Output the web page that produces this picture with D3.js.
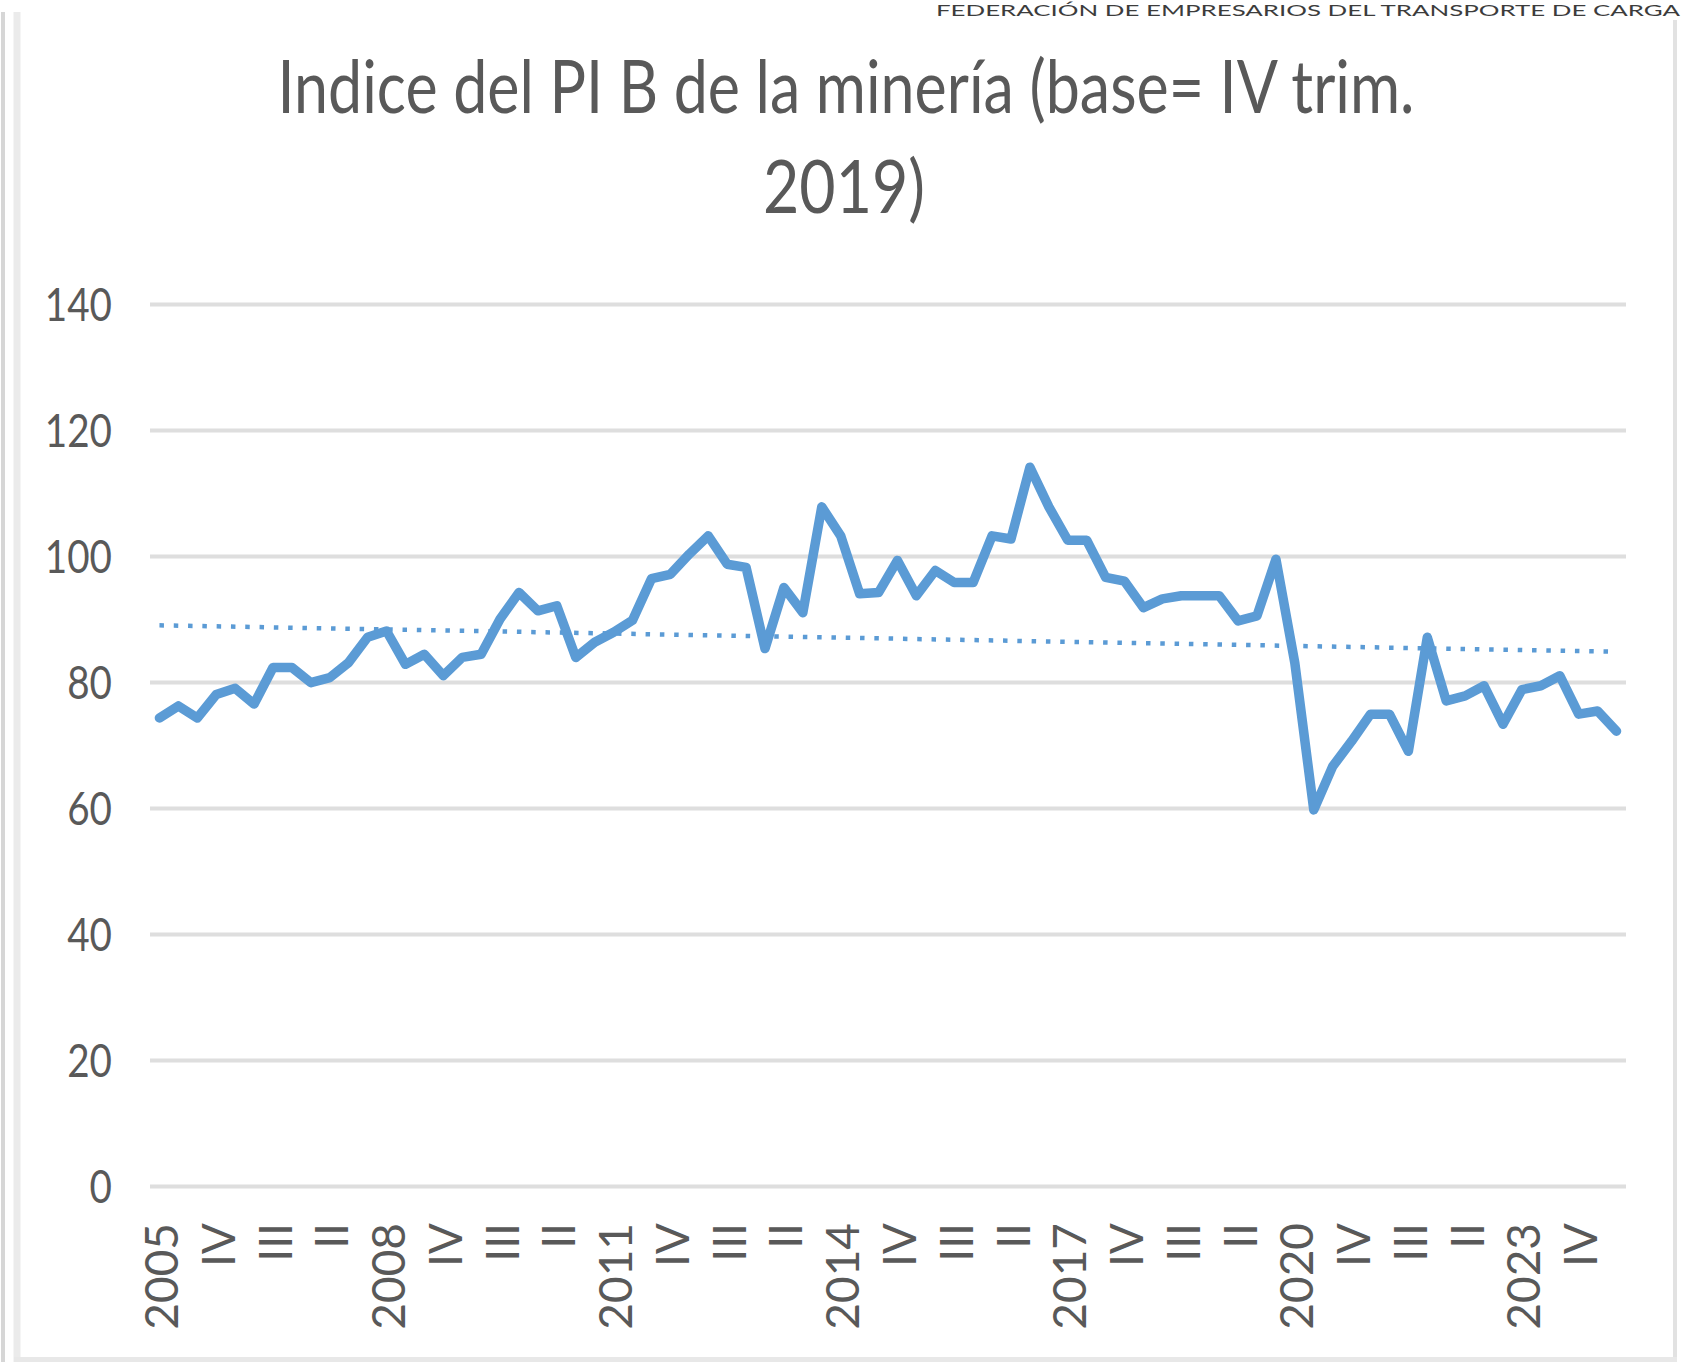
<!DOCTYPE html>
<html>
<head>
<meta charset="utf-8">
<script src="https://cdn.jsdelivr.net/npm/d3@7"></script>
<style>
  html, body { margin: 0; padding: 0; background: #ffffff; }
  svg { display: block; }
  text { font-family: Lato, "Open Sans", "DejaVu Sans", sans-serif; }
</style>
</head>
<body>
<script>
// ---------------- DATA ----------------
const categories = [
  "2005","II","III","IV", "2006","II","III","IV", "2007","II","III","IV",
  "2008","II","III","IV", "2009","II","III","IV", "2010","II","III","IV",
  "2011","II","III","IV", "2012","II","III","IV", "2013","II","III","IV",
  "2014","II","III","IV", "2015","II","III","IV", "2016","II","III","IV",
  "2017","II","III","IV", "2018","II","III","IV", "2019","II","III","IV",
  "2020","II","III","IV", "2021","II","III","IV", "2022","II","III","IV",
  "2023","II","III","IV", "2024","II"
];
const values = [
  74.3, 76.2, 74.3, 78.0,
  79.0, 76.5, 82.3, 82.3,
  79.9, 80.7, 83.1, 87.1,
  88.1, 82.8, 84.4, 81.0,
  83.9, 84.4, 90.0, 94.2,
  91.3, 92.1, 83.9, 86.3,
  87.9, 89.8, 96.4, 97.1,
  100.3, 103.2, 98.7, 98.2,
  85.3, 95.0, 91.0, 107.8,
  103.2, 94.0, 94.2, 99.3,
  93.7, 97.7, 95.8, 95.8,
  103.2, 102.7, 114.1, 107.8,
  102.5, 102.5, 96.6, 96.0,
  91.8, 93.2, 93.7, 93.7,
  93.7, 89.7, 90.5, 99.5,
  83.0, 59.7, 66.6, 70.6,
  74.9, 74.9, 69.0, 87.1,
  77.0, 77.8, 79.4, 73.3,
  78.8, 79.4, 81.0, 74.9,
  75.4, 72.2
];
// linear trendline (dotted): value at first and at last category
const trendValues = [89.0, 84.8];
const yTicks = [0, 20, 40, 60, 80, 100, 120, 140];
const titleLines = ["Indice del PI B de la minería (base= IV trim.", "2019)"];
const headerText = "FEDERACIÓN DE EMPRESARIOS DEL TRANSPORTE DE CARGA";

// ---------------- LAYOUT ----------------
const W = 1690, H = 1362;
const plot = { left: 150, right: 1626, top: 304, bottom: 1186 };
const blue = "#5b9bd5";
const textColor = "#595959";

const svg = d3.select("body").append("svg")
  .attr("width", W).attr("height", H).attr("viewBox", `0 0 ${W} ${H}`);

// frame lines
svg.append("line").attr("x1", 3).attr("x2", 3).attr("y1", 12).attr("y2", H)
  .attr("stroke", "#d6d6d6").attr("stroke-width", 4);
svg.append("line").attr("x1", 17).attr("x2", 17).attr("y1", 12).attr("y2", H)
  .attr("stroke", "#ebebeb").attr("stroke-width", 7);
svg.append("line").attr("x1", 1675).attr("x2", 1675).attr("y1", 20).attr("y2", H)
  .attr("stroke", "#e2e2e2").attr("stroke-width", 4);
svg.append("line").attr("x1", 14).attr("x2", 1677).attr("y1", 1359.5).attr("y2", 1359.5)
  .attr("stroke", "#e8e8e8").attr("stroke-width", 5);

// header (small strip at the very top)
svg.append("text")
  .attr("x", 936).attr("y", 16)
  .attr("font-size", 16)
  .attr("fill", "#3c3c3c")
  .attr("textLength", 744).attr("lengthAdjust", "spacingAndGlyphs")
  .text(headerText);

// title
const titleCenter = 846;
svg.append("text")
  .attr("x", titleCenter).attr("y", 113)
  .attr("text-anchor", "middle")
  .attr("font-size", 74)
  .attr("fill", textColor)
  .attr("textLength", 1137).attr("lengthAdjust", "spacingAndGlyphs")
  .text(titleLines[0]);
svg.append("text")
  .attr("x", titleCenter - 2).attr("y", 213)
  .attr("text-anchor", "middle")
  .attr("font-size", 74)
  .attr("fill", textColor)
  .attr("textLength", 162).attr("lengthAdjust", "spacingAndGlyphs")
  .text(titleLines[1]);

// scales
const x = d3.scaleBand().domain(d3.range(categories.length))
  .range([plot.left, plot.right]).padding(0);
const xc = i => x(i) + x.bandwidth() / 2;
const y = d3.scaleLinear().domain([0, 140]).range([plot.bottom, plot.top]);

// gridlines via axis
const gridAxis = d3.axisLeft(y).tickValues(yTicks)
  .tickSize(-(plot.right - plot.left)).tickFormat("");
const grid = svg.append("g").attr("transform", `translate(${plot.left},0)`).call(gridAxis);
grid.select(".domain").remove();
grid.selectAll(".tick line").attr("stroke", "#dedede").attr("stroke-width", 4);

// y labels
const yLab = svg.append("g");
yLab.selectAll("g").data(yTicks).join("g")
  .attr("transform", d => `translate(112,${y(d)}) scale(0.84,1)`)
  .append("text")
  .attr("text-anchor", "end")
  .attr("dy", "0.36em")
  .attr("font-size", 46)
  .attr("fill", textColor)
  .text(d => d);

// x labels (every 3rd category, rotated)
const xTickIdx = d3.range(categories.length).filter(i => i % 3 === 0);
const xLab = svg.append("g");
xLab.selectAll("g").data(xTickIdx).join("g")
  .attr("transform", i => `translate(${xc(i) + 2},1223) rotate(-90)`)
  .append("text")
  .attr("text-anchor", "end")
  .attr("dy", "0.36em")
  .attr("font-size", 46)
  .attr("fill", textColor)
  .text(i => categories[i]);

// trendline (dotted)
const last = categories.length - 1;
const trendPts = [[0, trendValues[0]], [last, trendValues[1]]];
svg.append("path")
  .datum(trendPts)
  .attr("d", d3.line().x(d => xc(d[0])).y(d => y(d[1])))
  .attr("fill", "none")
  .attr("stroke", blue)
  .attr("stroke-width", 4.5)
  .attr("stroke-dasharray", "4.5 9.8");

// main line
svg.append("path")
  .datum(values)
  .attr("d", d3.line().x((d, i) => xc(i)).y(d => y(d)))
  .attr("fill", "none")
  .attr("stroke", blue)
  .attr("stroke-width", 9.5)
  .attr("stroke-linejoin", "round")
  .attr("stroke-linecap", "round");
</script>
</body>
</html>
